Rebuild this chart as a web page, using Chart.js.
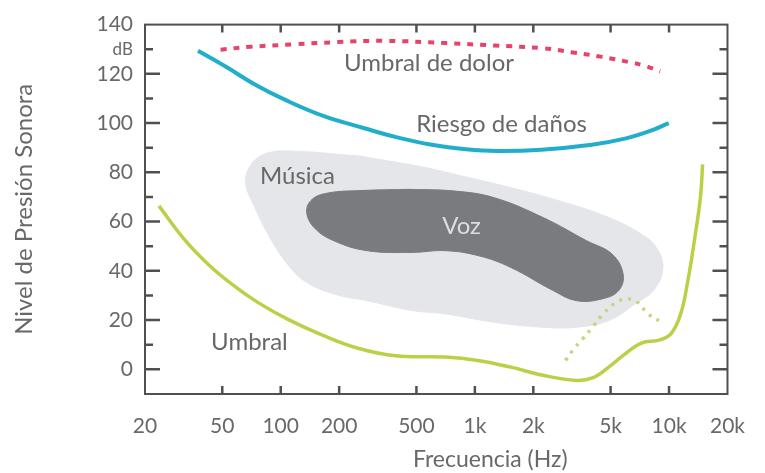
<!DOCTYPE html>
<html>
<head>
<meta charset="utf-8">
<script src="https://cdn.jsdelivr.net/npm/chart.js@4.4.1/dist/chart.umd.min.js"></script>
<style>
  html, body { margin: 0; padding: 0; background: #fff; }
  #grafico { display: block; }
</style>
</head>
<body>
<canvas id="grafico" width="765" height="473"></canvas>
<script>
// ejes
const frecTicks = [20, 50, 100, 200, 500, 1000, 2000, 5000, 10000, 20000];
const frecEtiquetas = ['20', '50', '100', '200', '500', '1k', '2k', '5k', '10k', '20k'];
const nivelTicks = [-10, 0, 10, 20, 30, 40, 50, 60, 70, 80, 90, 100, 110, 120, 130, 140];

// umbral de dolor (rojo punteado)
const dolorFrec = [49, 70, 118, 196, 350, 706, 1259, 2240, 3193, 4510, 6200, 7400, 9000];
const dolorDb = [129.8, 131, 132, 132.9, 133.4, 132.5, 131.5, 130.4, 128.7, 126.9, 124.8, 123.4, 121];

// riesgo de daños (cian)
const riesgoFrec = [37.5, 52, 74, 109, 167, 267, 393, 600, 900, 1300, 2200, 4000, 6000, 8000, 9960];
const riesgoDb = [129.4, 123, 115.6, 108.9, 102.8, 98, 94.3, 91.2, 89.4, 88.7, 89.2, 91.2, 93.8, 96.8, 100];

// umbral de audición (verde)
const umbralFrec = [23.6, 31.8, 42.8, 57.3, 76.5, 109, 164, 247, 393, 706, 1035, 1530, 2240, 3330, 4030, 4890, 5940, 7210, 8900, 10220, 11480, 12500, 13500, 14500, 14900];
const umbralDb = [66.4, 52.9, 42.3, 34, 27.1, 20.3, 13.9, 8.7, 5.5, 5, 3.6, 0.9, -2.4, -4.5, -3.5, 0.9, 6.3, 10.7, 11.9, 14.4, 22.5, 36, 52.2, 69.7, 83.2];

// curva punteada verde claro
const puntosFrec = [2930, 3190, 3590, 4030, 4510, 5200, 5940, 6800, 7800, 9200];
const puntosDb = [3.6, 7.7, 12.4, 17.1, 21.9, 26.6, 28.6, 27.5, 22.5, 19.1];

// zona de música (contorno cerrado, empieza arriba)
const musicaFrec = [256, 560, 860, 1530, 2730, 4890, 7210, 8600, 9300, 8400, 6700, 4890, 3330, 2240, 1259, 706, 475, 278, 188, 132, 105, 86, 73.6, 66, 71, 85, 118, 256];
const musicaDb = [86.6, 81.9, 78.5, 73.8, 68.4, 61.7, 54.9, 49.5, 41.4, 32.5, 26.6, 19.8, 17.1, 17.1, 19.1, 22.5, 23.9, 27.9, 30.6, 36, 44.1, 54.9, 65.7, 76, 83.5, 87.8, 88.6, 86.6];

// zona de voz (contorno cerrado, empieza arriba)
const vozFrec = [458, 791, 1259, 2240, 3770, 5085, 5800, 5500, 4510, 3330, 2530, 1530, 1050, 706, 475, 278, 188, 149, 136, 145, 175, 256, 458];
const vozDb = [73.1, 72.4, 69.7, 61.7, 52.2, 46.8, 38.7, 32, 28.6, 27.9, 32, 41.4, 46.1, 48.2, 47.5, 48.2, 52.2, 57.5, 64, 69, 71.6, 72.6, 73.1];

// rótulos dentro del gráfico
const rotulos = ['Umbral de dolor', 'Riesgo de daños', 'Música', 'Voz', 'Umbral'];
const rotulosFrec = [580, 1372, 122, 854, 69];
const rotulosDb = [124.2, 99.6, 78.5, 58.3, 10.9];

const GRIS_TEXTO = '#686868';
const FUENTE = 'Lato, "Liberation Sans", sans-serif';

function pares(xs, ys) {
    return xs.map((x, i) => ({ x, y: ys[i] }));
}

// marco, marcas hacia adentro, rótulos y título del eje x
const marcoYTextos = {
    id: 'marcoYTextos',
    afterDatasetsDraw(chart) {
        const { ctx, chartArea: a, scales: { x, y } } = chart;
        ctx.save();

        ctx.font = '24px ' + FUENTE;
        ctx.textAlign = 'center';
        ctx.textBaseline = 'middle';
        rotulos.forEach((t, i) => {
            ctx.fillStyle = t === 'Voz' ? '#dcdddf' : GRIS_TEXTO;
            ctx.fillText(t, x.getPixelForValue(rotulosFrec[i]), y.getPixelForValue(rotulosDb[i]));
        });

        ctx.strokeStyle = '#505050';
        ctx.lineWidth = 2;
        ctx.strokeRect(a.left, a.top, a.width, a.height);

        ctx.lineWidth = 2.5;
        ctx.beginPath();
        nivelTicks.forEach(v => {
            if (v === -10 || v === 140) return;
            const py = y.getPixelForValue(v);
            const largo = v % 20 === 0 ? 15 : 8;
            ctx.moveTo(a.left, py); ctx.lineTo(a.left + largo, py);
            ctx.moveTo(a.right, py); ctx.lineTo(a.right - largo, py);
        });
        frecTicks.forEach(v => {
            if (v === 20 || v === 20000) return;
            const px = x.getPixelForValue(v);
            ctx.moveTo(px, a.bottom); ctx.lineTo(px, a.bottom - 8);
            ctx.moveTo(px, a.top); ctx.lineTo(px, a.top + 8);
        });
        ctx.stroke();

        ctx.fillStyle = GRIS_TEXTO;
        ctx.font = '23px ' + FUENTE;
        ctx.fillText('Frecuencia (Hz)', (a.left + a.right) / 2 + 54, 460);
        ctx.restore();
    }
};

const ctx = document.getElementById('grafico').getContext('2d');
new Chart(ctx, {
    type: 'scatter',
    data: {
        datasets: [
            {
                label: 'Umbral de dolor',
                data: pares(dolorFrec, dolorDb),
                showLine: true,
                borderColor: '#e8426a',
                borderWidth: 4,
                borderDash: [6, 7],
                tension: 0.4,
                pointRadius: 0,
                order: 0
            },
            {
                label: 'Riesgo de daños',
                data: pares(riesgoFrec, riesgoDb),
                showLine: true,
                borderColor: '#22aecb',
                borderWidth: 4,
                tension: 0.4,
                pointRadius: 0,
                order: 0
            },
            {
                label: 'Umbral',
                data: pares(umbralFrec, umbralDb),
                showLine: true,
                borderColor: '#b8d247',
                borderWidth: 3.5,
                tension: 0.4,
                pointRadius: 0,
                order: 0
            },
            {
                label: 'Umbral (punteado)',
                data: pares(puntosFrec, puntosDb),
                showLine: true,
                borderColor: '#c3d67e',
                borderWidth: 3.5,
                borderDash: [3, 6],
                tension: 0.4,
                pointRadius: 0,
                order: 0
            },
            {
                label: 'Voz',
                data: pares(vozFrec, vozDb),
                showLine: true,
                borderColor: '#797b7f',
                backgroundColor: '#797b7f',
                borderWidth: 1,
                fill: 'shape',
                tension: 0.4,
                pointRadius: 0,
                order: 1
            },
            {
                label: 'Música',
                data: pares(musicaFrec, musicaDb),
                showLine: true,
                borderColor: '#e4e6e9',
                backgroundColor: '#e4e6e9',
                borderWidth: 1,
                fill: 'shape',
                tension: 0.4,
                pointRadius: 0,
                order: 2
            }
        ]
    },
    options: {
        responsive: false,
        animation: false,
        devicePixelRatio: 1,
        layout: { padding: { left: 0, right: 28, top: 23, bottom: 0 } },
        plugins: {
            legend: { display: false },
            tooltip: { enabled: false }
        },
        scales: {
            x: {
                type: 'logarithmic',
                min: 20,
                max: 20000,
                afterBuildTicks: s => { s.ticks = frecTicks.map(v => ({ value: v })); },
                afterFit: s => { s.height = 79; },
                grid: { display: false, drawTicks: false },
                border: { display: false },
                ticks: {
                    autoSkip: false,
                    maxRotation: 0,
                    padding: 20,
                    color: GRIS_TEXTO,
                    font: { family: FUENTE, size: 21 },
                    callback: (v, i) => frecEtiquetas[i]
                }
            },
            y: {
                min: -10,
                max: 140,
                afterBuildTicks: s => { s.ticks = nivelTicks.map(v => ({ value: v })); },
                afterFit: s => { s.width = 145; },
                grid: { display: false, drawTicks: false },
                border: { display: false },
                title: {
                    display: true,
                    text: 'Nivel de Presión Sonora',
                    color: GRIS_TEXTO,
                    font: { family: FUENTE, size: 24 },
                    padding: { top: 10, bottom: 0 }
                },
                ticks: {
                    autoSkip: false,
                    padding: 12,
                    color: GRIS_TEXTO,
                    font: c => ({ family: FUENTE, size: c.tick && c.tick.value === 130 ? 17 : 21 }),
                    callback: v => v === 130 ? 'dB' : (v >= 0 && v % 20 === 0 ? String(v) : '')
                }
            }
        }
    },
    plugins: [marcoYTextos]
});
</script>
</body>
</html>
